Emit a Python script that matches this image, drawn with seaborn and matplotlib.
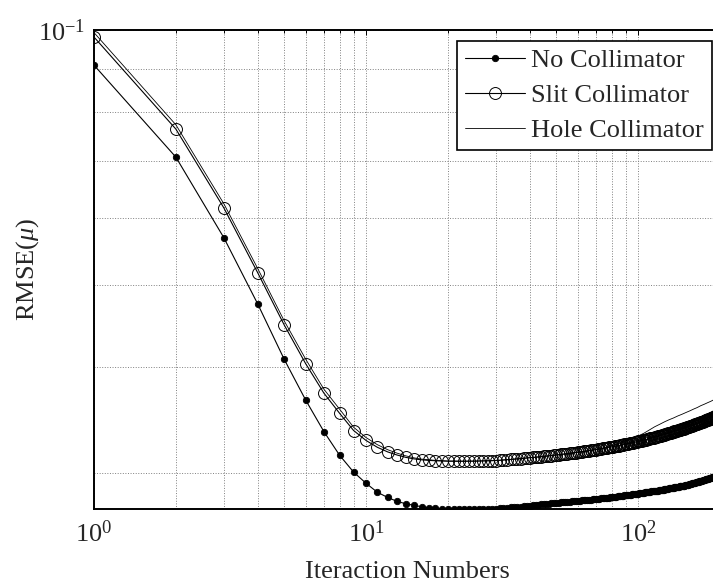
import numpy as np
import pandas as pd
import matplotlib
matplotlib.use("Agg")
import matplotlib.pyplot as plt
import matplotlib.ticker as mticker
import seaborn as sns

# ---------------- data ----------------
iterations = list(range(1, 201))

no_collimator = [
    0.0909, 0.0708, 0.0569, 0.0475, 0.0409, 0.0366, 0.0336, 0.0315, 0.0301, 0.0292,
    0.0285, 0.0281, 0.02780, 0.02762, 0.02750, 0.02740, 0.02733, 0.02728, 0.02724, 0.02721,
    0.02720, 0.02720, 0.02720, 0.02721, 0.02721, 0.02722, 0.02723, 0.02724, 0.02725, 0.02726,
    0.02728, 0.02730, 0.02733, 0.02735, 0.02737, 0.02739, 0.02741, 0.02744, 0.02746, 0.02748,
    0.02750, 0.02752, 0.02755, 0.02757, 0.02759, 0.02761, 0.02763, 0.02766, 0.02768, 0.02770,
    0.02771, 0.02773, 0.02774, 0.02776, 0.02777, 0.02778, 0.02780, 0.02781, 0.02783, 0.02784,
    0.02785, 0.02787, 0.02788, 0.02790, 0.02791, 0.02792, 0.02794, 0.02795, 0.02797, 0.02798,
    0.02799, 0.02801, 0.02802, 0.02804, 0.02805, 0.02806, 0.02808, 0.02809, 0.02811, 0.02812,
    0.02813, 0.02815, 0.02816, 0.02818, 0.02819, 0.02820, 0.02822, 0.02823, 0.02825, 0.02826,
    0.02827, 0.02829, 0.02830, 0.02832, 0.02833, 0.02834, 0.02836, 0.02837, 0.02839, 0.02840,
    0.02841, 0.02843, 0.02844, 0.02845, 0.02847, 0.02848, 0.02849, 0.02850, 0.02852, 0.02853,
    0.02854, 0.02856, 0.02857, 0.02858, 0.02860, 0.02861, 0.02862, 0.02863, 0.02865, 0.02866,
    0.02867, 0.02869, 0.02870, 0.02871, 0.02873, 0.02874, 0.02875, 0.02876, 0.02878, 0.02879,
    0.02880, 0.02882, 0.02883, 0.02884, 0.02886, 0.02887, 0.02888, 0.02889, 0.02891, 0.02892,
    0.02893, 0.02895, 0.02896, 0.02897, 0.02899, 0.02900, 0.02901, 0.02902, 0.02904, 0.02905,
    0.02907, 0.02909, 0.02910, 0.02912, 0.02914, 0.02915, 0.02917, 0.02919, 0.02920, 0.02922,
    0.02924, 0.02925, 0.02927, 0.02929, 0.02931, 0.02932, 0.02934, 0.02936, 0.02937, 0.02939,
    0.02941, 0.02942, 0.02944, 0.02946, 0.02947, 0.02949, 0.02951, 0.02953, 0.02954, 0.02956,
    0.02958, 0.02959, 0.02961, 0.02963, 0.02964, 0.02966, 0.02968, 0.02969, 0.02971, 0.02973,
    0.02975, 0.02976, 0.02978, 0.02980, 0.02981, 0.02983, 0.02985, 0.02986, 0.02988, 0.02990,
]

slit_collimator = [
    0.0981, 0.0764, 0.0617, 0.0517, 0.0449, 0.0404, 0.0373, 0.0353, 0.0337, 0.0328,
    0.0322, 0.0318, 0.03153, 0.03133, 0.03120, 0.03112, 0.03107, 0.03104, 0.03102, 0.03101,
    0.03100, 0.03100, 0.03100, 0.03101, 0.03101, 0.03102, 0.03103, 0.03104, 0.03105, 0.03106,
    0.03108, 0.03111, 0.03113, 0.03115, 0.03118, 0.03120, 0.03122, 0.03125, 0.03127, 0.03130,
    0.03132, 0.03134, 0.03137, 0.03139, 0.03141, 0.03144, 0.03146, 0.03148, 0.03151, 0.03153,
    0.03155, 0.03158, 0.03160, 0.03162, 0.03165, 0.03167, 0.03170, 0.03172, 0.03174, 0.03177,
    0.03179, 0.03181, 0.03184, 0.03186, 0.03188, 0.03191, 0.03193, 0.03195, 0.03198, 0.03200,
    0.03202, 0.03205, 0.03207, 0.03210, 0.03212, 0.03214, 0.03217, 0.03219, 0.03221, 0.03224,
    0.03226, 0.03228, 0.03231, 0.03233, 0.03235, 0.03238, 0.03240, 0.03242, 0.03245, 0.03247,
    0.03250, 0.03252, 0.03254, 0.03257, 0.03259, 0.03261, 0.03264, 0.03266, 0.03268, 0.03271,
    0.03273, 0.03276, 0.03278, 0.03281, 0.03283, 0.03286, 0.03288, 0.03291, 0.03293, 0.03296,
    0.03298, 0.03301, 0.03303, 0.03306, 0.03308, 0.03311, 0.03313, 0.03316, 0.03318, 0.03321,
    0.03323, 0.03326, 0.03328, 0.03331, 0.03333, 0.03336, 0.03338, 0.03341, 0.03343, 0.03346,
    0.03348, 0.03351, 0.03353, 0.03356, 0.03358, 0.03361, 0.03363, 0.03366, 0.03368, 0.03371,
    0.03373, 0.03376, 0.03378, 0.03381, 0.03383, 0.03386, 0.03388, 0.03391, 0.03393, 0.03396,
    0.03398, 0.03401, 0.03403, 0.03406, 0.03408, 0.03411, 0.03413, 0.03416, 0.03418, 0.03421,
    0.03423, 0.03426, 0.03428, 0.03431, 0.03433, 0.03436, 0.03438, 0.03441, 0.03443, 0.03446,
    0.03448, 0.03451, 0.03453, 0.03456, 0.03458, 0.03461, 0.03463, 0.03466, 0.03468, 0.03471,
    0.03473, 0.03476, 0.03478, 0.03481, 0.03483, 0.03486, 0.03488, 0.03491, 0.03493, 0.03496,
    0.03498, 0.03501, 0.03503, 0.03506, 0.03508, 0.03511, 0.03513, 0.03516, 0.03518, 0.03521,
]

hole_iterations = list(range(1, 21)) + list(range(25, 201, 5))
hole_collimator = [
    0.0993, 0.0773, 0.0624, 0.0523, 0.0454, 0.0409, 0.0377, 0.0357, 0.0340, 0.03306,
    0.03243, 0.03199, 0.03169, 0.03146, 0.03129, 0.03118, 0.03113, 0.03107, 0.03105, 0.03101,
    0.03101, 0.03106, 0.03118, 0.03130, 0.03141, 0.03153, 0.03165, 0.03177, 0.03188, 0.03200,
    0.03215, 0.03234, 0.03251, 0.03273, 0.03295, 0.03320, 0.03345, 0.03375, 0.03404, 0.03427,
    0.03450, 0.03470, 0.03487, 0.03506, 0.03522, 0.03539, 0.03555, 0.03572, 0.03587, 0.03605,
    0.03619, 0.03634, 0.03648, 0.03664, 0.03680, 0.03697,
]

x_ticks = [1, 10, 100]
y_ticks = [0.1]
x_label = "Iteraction Numbers"
y_label = r"RMSE($\mu$)"
series_labels = ["No Collimator", "Slit Collimator", "Hole Collimator"]

# ---------------- style ----------------
sns.set_style("white")
plt.rcParams["font.family"] = ["Liberation Serif", "DejaVu Serif"]
plt.rcParams["mathtext.fontset"] = "custom"
plt.rcParams["mathtext.rm"] = "Liberation Serif"
plt.rcParams["mathtext.it"] = "Liberation Serif:italic"
plt.rcParams["mathtext.bf"] = "Liberation Serif:bold"
plt.rcParams["axes.unicode_minus"] = False

FS = 19

fig = plt.figure(figsize=(7.13, 5.82), dpi=100)
W, H = 713, 582
left_px, right_px, top_px, bottom_px = 94, 720, 30, 509
ax = fig.add_axes([left_px / W, 1 - bottom_px / H,
                   (right_px - left_px) / W, (bottom_px - top_px) / H])

df_main = pd.DataFrame({"it": iterations, "no": no_collimator, "slit": slit_collimator})
df_hole = pd.DataFrame({"it": hole_iterations, "hole": hole_collimator})

sns.lineplot(data=df_main, x="it", y="no", ax=ax, color="black", linewidth=0.8,
             marker="o", markersize=4.6, markerfacecolor="black",
             markeredgecolor="black", markeredgewidth=0.6, label=series_labels[0],
             zorder=3)
sns.lineplot(data=df_main, x="it", y="slit", ax=ax, color="black", linewidth=0.8,
             marker="o", markersize=8.6, markerfacecolor="none",
             markeredgecolor="black", markeredgewidth=0.7, label=series_labels[1],
             zorder=3)
sns.lineplot(data=df_hole, x="it", y="hole", ax=ax, color="black", linewidth=0.6,
             label=series_labels[2], zorder=3)

ax.set_xscale("log")
ax.set_yscale("log")
ax.set_xlim(1, 200)
ax.set_ylim(0.02723, 0.1)

ax.xaxis.set_major_locator(mticker.FixedLocator(x_ticks))
ax.yaxis.set_major_locator(mticker.FixedLocator(y_ticks))
ax.xaxis.set_major_formatter(mticker.LogFormatterSciNotation())
ax.yaxis.set_major_formatter(mticker.LogFormatterSciNotation())
ax.xaxis.set_minor_locator(mticker.LogLocator(base=10, subs=np.arange(2, 10)))
ax.yaxis.set_minor_locator(mticker.LogLocator(base=10, subs=np.arange(2, 10)))
ax.xaxis.set_minor_formatter(mticker.NullFormatter())
ax.yaxis.set_minor_formatter(mticker.NullFormatter())

ax.grid(True, which="both", linestyle=":", color="0.5", linewidth=0.7)
ax.set_axisbelow(True)

for s in ax.spines.values():
    s.set_color("black")
    s.set_linewidth(1.4)

ax.tick_params(which="both", direction="in", top=True, right=True,
               color="black", width=0.7)
ax.tick_params(which="major", length=3.5, labelsize=FS)
ax.tick_params(which="minor", length=2.2)
ax.tick_params(axis="x", which="major", pad=8)
ax.tick_params(axis="y", which="major", pad=6)

ax.set_xlabel(x_label, fontsize=FS)
ax.set_ylabel(y_label, fontsize=FS)
ax.xaxis.label.set_va("baseline")
ax.xaxis.set_label_coords(0.5, (bottom_px - 578) / (bottom_px - top_px))
ax.yaxis.set_label_coords((41 - left_px) / (right_px - left_px), 0.5)

leg = ax.legend(loc="upper right", bbox_to_anchor=(712 / W, 1 - 41 / H),
                bbox_transform=fig.transFigure, borderaxespad=0,
                fontsize=FS, frameon=True, fancybox=False, numpoints=1,
                handlelength=2.25, handletextpad=0.25, labelspacing=0.43,
                borderpad=0.3)
leg.get_frame().set_edgecolor("black")
leg.get_frame().set_linewidth(1.2)
leg.get_frame().set_alpha(1)

fig.savefig("out.png", dpi=100)
